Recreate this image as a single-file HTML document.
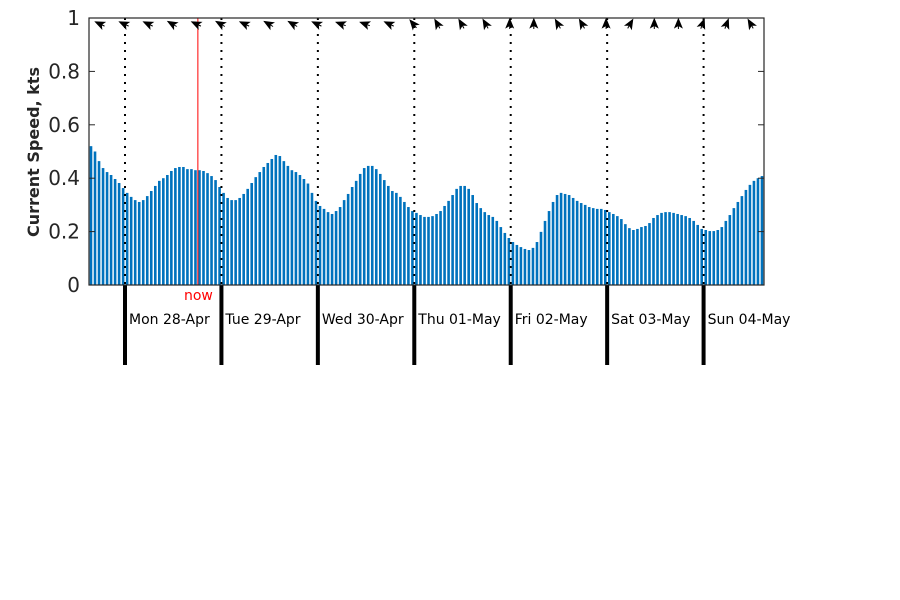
<!DOCTYPE html>
<html><head><meta charset="utf-8"><style>
body{margin:0;background:#fff;}
svg{display:block;font-family:"DejaVu Sans","Liberation Sans",sans-serif;}
</style></head><body>
<svg id="chart" width="900" height="600" viewBox="0 0 900 600" xmlns="http://www.w3.org/2000/svg">
<rect width="900" height="600" fill="#fff"/>
<g id="bars"></g>
<g id="grid"></g>
<g id="arrows"></g>
<g id="axes"></g>
<text transform="translate(39,152) rotate(-90)" text-anchor="middle" font-size="16" font-weight="bold" fill="#262626">Current Speed, kts</text>
</svg>
<script>
const speeds = [0.52,0.50,0.464,0.438,0.423,0.412,0.397,0.382,0.363,0.345,0.33,0.318,0.311,0.318,0.333,0.352,0.371,0.39,0.40,0.412,0.427,0.438,0.442,0.442,0.434,0.434,0.43,0.43,0.427,0.419,0.408,0.393,0.367,0.345,0.326,0.318,0.318,0.326,0.341,0.36,0.382,0.404,0.423,0.442,0.457,0.472,0.487,0.483,0.464,0.446,0.43,0.423,0.412,0.397,0.38,0.345,0.315,0.296,0.285,0.273,0.266,0.277,0.292,0.318,0.341,0.367,0.39,0.416,0.438,0.446,0.446,0.434,0.416,0.393,0.371,0.352,0.345,0.33,0.311,0.292,0.277,0.27,0.262,0.255,0.255,0.258,0.266,0.277,0.296,0.315,0.337,0.36,0.371,0.371,0.36,0.337,0.307,0.288,0.273,0.262,0.255,0.24,0.217,0.195,0.176,0.161,0.15,0.142,0.135,0.131,0.139,0.161,0.199,0.24,0.277,0.311,0.337,0.345,0.341,0.337,0.326,0.315,0.307,0.30,0.292,0.288,0.285,0.285,0.281,0.273,0.266,0.258,0.247,0.228,0.213,0.206,0.21,0.217,0.221,0.232,0.251,0.262,0.27,0.273,0.273,0.27,0.266,0.262,0.258,0.251,0.24,0.225,0.21,0.206,0.202,0.202,0.206,0.217,0.24,0.262,0.288,0.311,0.333,0.356,0.375,0.39,0.40,0.408];
const headings = [295,295,295,300,295,300,295,300,300,295,290,290,295,320,330,330,330,0,0,330,330,0,30,0,0,20,20,330];
const dayLabels = ["Mon 28-Apr","Tue 29-Apr","Wed 30-Apr","Thu 01-May","Fri 02-May","Sat 03-May","Sun 04-May"];
const yTicks = [0,0.2,0.4,0.6,0.8,1];
const yTickLabels = ["0","0.2","0.4","0.6","0.8","1"];
const nowIndex = 26.6;

const NS="http://www.w3.org/2000/svg";
const L=89,R=764,T=18,B=285;
const xBar=i=>91+i*(R-L)/168;
const xDay=d=>125+d*96.43;
const yv=v=>B-v*(B-T);
function mk(tag,attrs,parent){const e=document.createElementNS(NS,tag);for(const k in attrs)e.setAttribute(k,attrs[k]);parent.appendChild(e);return e;}
const gb=document.getElementById('bars');
speeds.forEach((v,i)=>{
  const r=mk('rect',{x:xBar(i)-1.3,y:yv(v),width:2.6,height:B-yv(v),fill:'#0072BD'},gb);
  
  
});
const gg=document.getElementById('grid');
dayLabels.forEach((lab,d)=>{
  const x=xDay(d);
  const dl=mk('line',{x1:x,y1:T,x2:x,y2:B,stroke:'#000','stroke-width':2,'stroke-dasharray':'2 6'},gg);
  
  
  const tl=mk('line',{x1:x,y1:B,x2:x,y2:365,stroke:'#000','stroke-width':4},gg);
  
  
  const t=mk('text',{x:x+4,y:324,'text-anchor':'start','font-size':14,fill:'#000'},gg);
  t.textContent=lab;
  
  
});
const nx=xBar(nowIndex);
const nl=mk('line',{x1:nx,y1:T,x2:nx,y2:B,stroke:'#ff0000','stroke-width':1},gg);


const nt=mk('text',{x:nx+15,y:300,'text-anchor':'end','font-size':14,fill:'#ff0000'},gg);
nt.textContent='now';


const ga=document.getElementById('arrows');
headings.forEach((h,k)=>{
  const x=100+24.1*k;
  const a=mk('path',{d:'M0,-5 L3.5,3.5 L0,1.5 L-3.5,3.5 Z M0,1.5 L0,5',fill:'#000',stroke:'#000','stroke-width':1,transform:`translate(${x},24) rotate(${h})`},ga);
  
  
});
const gx=document.getElementById('axes');
const box=mk('rect',{x:L,y:T,width:R-L,height:B-T,fill:'none',stroke:'#262626','stroke-width':1.2},gx);


yTicks.forEach((v,i)=>{
  const y=yv(v);
  mk('line',{x1:L,y1:y,x2:L+6,y2:y,stroke:'#262626'},gx);
  mk('line',{x1:R,y1:y,x2:R-6,y2:y,stroke:'#262626'},gx);
  const t=mk('text',{x:80,y:y+7,'text-anchor':'end','font-size':20,fill:'#262626'},gx);
  t.textContent=yTickLabels[i];
  
  
});
</script>
</body></html>
